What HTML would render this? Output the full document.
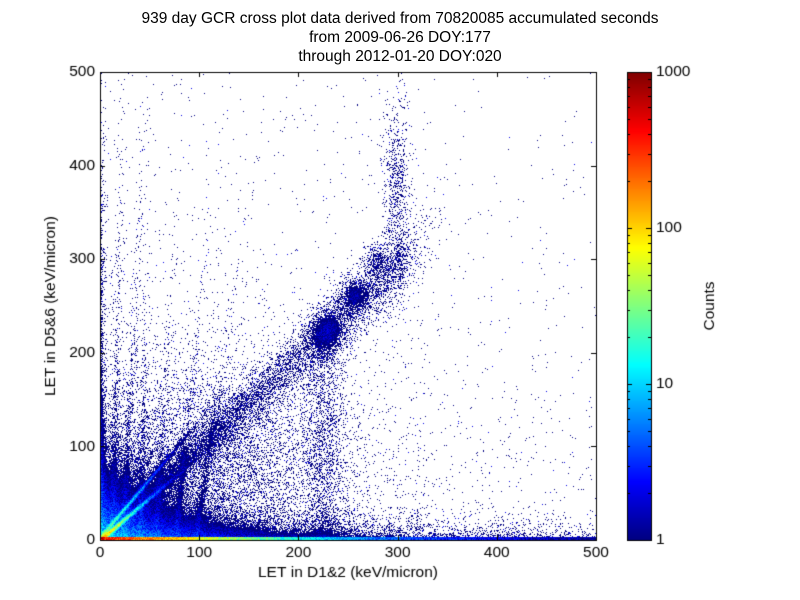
<!DOCTYPE html>
<html><head><meta charset="utf-8"><style>
body{margin:0;background:#fff;}
#c{position:absolute;left:0;top:0;}
.t{position:absolute;font-family:"Liberation Sans","DejaVu Sans",sans-serif;font-size:15.5px;color:#000;white-space:nowrap;}
</style></head><body>
<canvas id="c" width="800" height="600"></canvas>
<div class="t" style="left:0;width:800px;text-align:center;top:9px;line-height:19px">939 day GCR cross plot data derived from 70820085 accumulated seconds<br>from 2009-06-26 DOY:177<br>through 2012-01-20 DOY:020</div>
<script>
const c=document.getElementById('c'),g=c.getContext('2d');
let s=12345;function r(){s=(s*16807)%2147483647;return (s-1)/2147483646;}
function jetA(v){function f(x){return Math.max(0,Math.min(1,x));}
return [f(1.5-Math.abs(4*v-3)),f(1.5-Math.abs(4*v-2)),f(1.5-Math.abs(4*v-1))].map(x=>Math.round(x*255));}
function jet(v){return 'rgb('+jetA(v).join(',')+')';}
const X0=100,Y0=540,SX=496/500,SY=468/500;
const E=Math.exp;
function gb(x,y,cx,cy,sx,sy,a){let dx=(x-cx)/sx,dy=(y-cy)/sy;return a*E(-(dx*dx+dy*dy)/2);}
const st=[[12,0.02,300],[22,0.05,250],[40,0.02,180],[55,0.06,180],[75,0.1,200],[95,0.15,180]];
function dens(x,y){
 let d=0;
 d+=0.3*E(-x/130-y/90);
 d+=12*E(-x/45-y/30);
 d+=0.03*E(-y/250)*(x<330?1:0.4);
 d+=gb(x,y,120,90,60,50,0.3);
 if(y<35)d+=6*E(-y/9)*E(-x/180);
 if(y<3)d+=500*E(-x/55)+6*E(-x/300);
 d+=200*E(-((y-x*0.9)*(y-x*0.9))/5)*E(-x/14);
 d+=40*E(-((y-x*1.25-3)*(y-x*1.25-3))/6)*E(-x/22);
 if(x<6)d+=4*E(-y/150)*E(-x/2.5);
 let dd=y-x*0.98,w=9+x*0.04;d+=0.6*E(-dd*dd/(2*w*w))*(x>20?1:0)*E(-Math.max(0,x-300)/15);
 for(const [x0,t,L] of st){let q=x-x0-y*t;d+=1.0*E(-q*q/10)*E(-y/L*2);}
 d+=gb(x,y,228,222,10,13,1.3)+gb(x,y,255,262,8,10,1.0)+gb(x,y,277,300,7,10,0.6)+gb(x,y,298,380,7,45,0.45);
 d+=0.3*E(-(x-225)*(x-225)/300)*(y<200?1:0);
 return d;}
const img=g.createImageData(496,468);
for(let py=0;py<468;py++)for(let px=0;px<496;px++){
 let x=(px+0.5)/SX,y=(467-py+0.5)/SY;let d=dens(x,y);let cnt;
 if(d<1.3){if(r()>d*0.8)continue;cnt=1+(r()<0.1?1:0);}else cnt=d*(0.4+r()*0.8);
 let v=Math.min(1,Math.max(0,Math.log10(cnt)/3));let col=jetA(v);
 let i=(py*496+px)*4;img.data[i]=col[0];img.data[i+1]=col[1];img.data[i+2]=col[2];img.data[i+3]=255;}
g.putImageData(img,101,72);
g.strokeStyle='#000';g.lineWidth=1;g.strokeRect(100.5,72.5,496,468);
g.beginPath();
for(let i=0;i<=5;i++){let x=Math.round(X0+i*100*SX)+0.5;g.moveTo(x,540);g.lineTo(x,535);g.moveTo(x,72);g.lineTo(x,77);
let y=Math.round(Y0-i*100*SY)+0.5;g.moveTo(100,y);g.lineTo(105,y);g.moveTo(596,y);g.lineTo(591,y);}
g.stroke();
for(let y=0;y<468;y++){g.fillStyle=jet(1-y/468);g.fillRect(627,72+y,24,1);}
g.strokeRect(627.5,72.5,24,468);
g.beginPath();
for(let d=0;d<3;d++)for(let m=1;m<10;m++){let y=Math.round(540-(d+Math.log10(m))*156)+0.5;let L=m==1?5:3;g.moveTo(627,y);g.lineTo(627+L,y);g.moveTo(651,y);g.lineTo(651-L,y);}
g.stroke();
g.font='15.5px "Liberation Sans",sans-serif';g.fillStyle='#000';
g.textAlign='center';g.textBaseline='top';
for(let i=0;i<=5;i++)g.fillText(String(i*100),X0+i*100*SX,545);
g.textAlign='right';g.textBaseline='middle';
for(let i=0;i<=5;i++)g.fillText(String(i*100),95,Y0-i*100*SY);
g.textAlign='left';
[['1',540],['10',384],['100',228],['1000',72]].forEach(a=>g.fillText(a[0],656,a[1]));
g.textAlign='center';g.textBaseline='alphabetic';
g.fillText('LET in D1&2 (keV/micron)',348,577);
g.save();g.translate(55,306);g.rotate(-Math.PI/2);g.fillText('LET in D5&6 (keV/micron)',0,0);g.restore();
g.save();g.translate(714,306);g.rotate(-Math.PI/2);g.fillText('Counts',0,0);g.restore();
</script>
</body></html>
